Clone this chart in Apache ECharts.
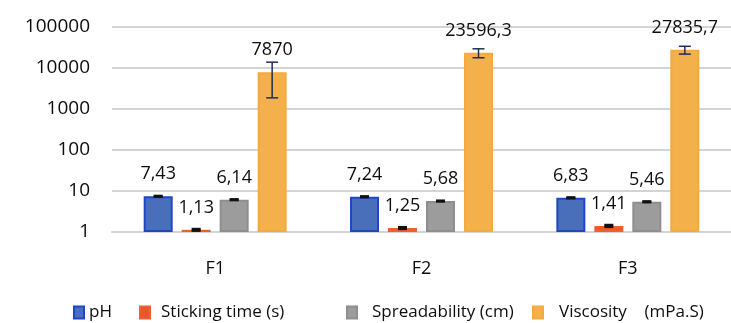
<!DOCTYPE html>
<html>
<head>
<meta charset="utf-8">
<script src="https://cdn.jsdelivr.net/npm/echarts@6/dist/echarts.min.js"></script>
<style>html,body{margin:0;padding:0;background:#fff}#c{width:731px;height:323px}</style>
</head>
<body>
<div id="c"></div>
<script>
var categories = ['F1', 'F2', 'F3'];
var seriesNames = ['pH', 'Sticking time (s)', 'Spreadability (cm)', 'Viscosity (mPa.S)'];
var phValues = [7.43, 7.24, 6.83];
var stickingValues = [1.13, 1.25, 1.41];
var spreadValues = [6.14, 5.68, 5.46];
var viscosityValues = [7870, 23596.3, 27835.7];
var phErrors = [0.15, 0.15, 0.15];
var stickingErrors = [0.05, 0.06, 0.07];
var spreadErrors = [0.12, 0.12, 0.12];
var viscosityErrors = [6000, 5800, 6000];
var yTicks = [1, 10, 100, 1000, 10000, 100000];

var values = [phValues, stickingValues, spreadValues, viscosityValues];
var errors = [phErrors, stickingErrors, spreadErrors, viscosityErrors];
var fills = ['#4A6FBA', '#E9572B', '#9C9C9C', '#F4B04A'];
var borders = ['#1D47C8', '#F0602E', '#8E8E8E', '#F5AA3C'];
var errColors = ['#111', '#111', '#111', '#1F2D5A'];
var capW = [9, 9, 9, 12];
var BAR_W = 29, PITCH = 38;
var FONT = 'Open Sans';
var TXT = '#0d0d0d';

var chart = echarts.init(document.getElementById('c'));
var series = [];
values.forEach(function (vals, i) {
  series.push({
    name: seriesNames[i],
    type: 'bar',
    data: vals,
    barWidth: BAR_W,
    barGap: '31%',
    itemStyle: { color: fills[i], borderColor: borders[i], borderWidth: 2 },
    label: {
      show: true, position: 'top', distance: 13,
      fontFamily: FONT, fontSize: 18, color: TXT,
      formatter: function (p) { return String(p.value).replace('.', ','); }
    },
    z: 2
  });
});
values.forEach(function (vals, i) {
  series.push({
    type: 'custom',
    silent: true,
    z: 5,
    data: vals.map(function (v, k) { return [k, v - errors[i][k], v + errors[i][k]]; }),
    renderItem: function (params, api) {
      var lo = api.coord([api.value(0), api.value(1)]);
      var hi = api.coord([api.value(0), api.value(2)]);
      var x = lo[0] + (-1.5 + i) * PITCH;
      var hw = capW[i] / 2;
      var st = { stroke: errColors[i], lineWidth: i === 3 ? 1.5 : 2.5 };
      return {
        type: 'group',
        children: [
          { type: 'line', shape: { x1: x, y1: lo[1], x2: x, y2: hi[1] }, style: st },
          { type: 'line', shape: { x1: x - hw, y1: hi[1], x2: x + hw, y2: hi[1] }, style: st },
          { type: 'line', shape: { x1: x - hw, y1: lo[1], x2: x + hw, y2: lo[1] }, style: st }
        ]
      };
    }
  });
});

var legendLefts = [73, 139, 346, 532];
var legendTextPad = [0, 6, 10, 11];
var legends = seriesNames.map(function (n, i) {
  return {
    data: [n], left: legendLefts[i], top: 304, padding: 0,
    itemWidth: 10, itemHeight: 12, itemGap: 0,
    icon: 'rect',
    textStyle: { fontFamily: FONT, fontSize: 17, color: TXT, padding: [0, 0, 0, legendTextPad[i]] },
    formatter: function (name) { return name === 'Viscosity (mPa.S)' ? 'Viscosity    (mPa.S)' : name; },
    selectedMode: false
  };
});

chart.setOption({
  animation: false,
  color: fills,
  grid: { left: 112, width: 624, top: 27, height: 205 },
  legend: legends,
  xAxis: {
    type: 'category', data: categories,
    axisTick: { show: false },
    axisLine: { lineStyle: { color: '#D4D4D4', width: 2 } },
    axisLabel: { fontFamily: FONT, fontSize: 18, color: TXT, margin: 28 }
  },
  yAxis: {
    type: 'log', logBase: 10, min: yTicks[0], max: yTicks[yTicks.length - 1],
    axisLine: { show: false }, axisTick: { show: false },
    splitLine: { lineStyle: { color: '#D4D4D4', width: 2 } },
    axisLabel: {
      fontFamily: FONT, fontSize: 19, color: TXT, margin: 22,
      formatter: function (v) { return String(Math.round(v)); }
    }
  },
  series: series
});
</script>
</body>
</html>
